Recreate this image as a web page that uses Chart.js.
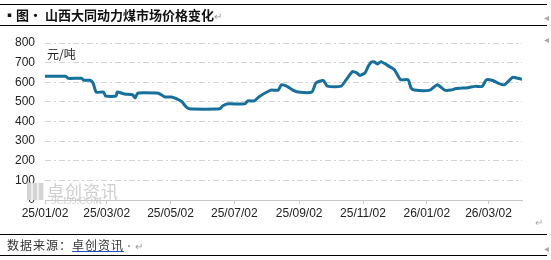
<!DOCTYPE html>
<html>
<head>
<meta charset="utf-8">
<script src="https://cdn.jsdelivr.net/npm/chart.js@4/dist/chart.umd.min.js"></script>
<style>
  body { margin: 0; background: #fff; }
  #wrap { position: relative; width: 551px; height: 260px; overflow: hidden; font-family: "Noto Sans CJK SC", sans-serif; }
  #grafico { position: absolute; left: 0; top: 0; }
  .linea { position: absolute; left: 0; width: 547px; height: 1px; background: #000; }
  #titulo { position: absolute; left: 3px; top: 5px; font-size: 13px; font-weight: bold; color: #111; white-space: nowrap; }
  #fuente { position: absolute; left: 7px; top: 236px; font-size: 12px; color: #333; letter-spacing: 1px; white-space: nowrap; }
  #fuente u { text-decoration-color: #2050c0; }
  .marca { position: absolute; color: #aaa; font-size: 10px; }
  #unidad { position: absolute; left: 47px; top: 45px; font-size: 12px; color: #222; }
  #agua { position: absolute; left: 27px; top: 180px; color: #cfcfcf; }
  #agua .logo { position: absolute; left: 0; top: 3px; width: 17px; height: 17px; background: repeating-linear-gradient(90deg, #d4d4d4 0 4px, #eee 4px 6px); }
  #agua .txt { position: absolute; left: 20px; top: -2px; font-size: 17px; letter-spacing: 1px; white-space: nowrap; }
  #agua .web { position: absolute; left: 24px; top: 15px; font-size: 10px; font-family: "Liberation Serif", serif; white-space: nowrap; }
</style>
</head>
<body>
<div id="wrap">
  <canvas id="grafico" width="551" height="260"></canvas>
  <div class="linea" style="top:4px"></div>
  <div class="linea" style="top:25px"></div>
  <div class="linea" style="top:234px"></div>
  <div class="linea" style="top:255px"></div>
  <div id="titulo">▪图· 山西大同动力煤市场价格变化<span style="color:#999;font-weight:normal;font-size:10px">↵</span></div>
  <div class="marca" style="left:544px;top:9px">◂</div>
  <div class="marca" style="left:544px;top:31px">◂</div>
  <div class="marca" style="left:535px;top:214px">↵</div>
  <div class="marca" style="left:544px;top:240px">◂</div>
  <div id="unidad">元/吨</div>
  <div id="agua"><div class="logo"></div><div class="txt">卓创资讯</div><div class="web">SCI99.COM</div></div>
  <div id="fuente">数据来源：<u>卓创资讯</u><span style="color:#999;font-size:10px">·↵</span></div>
</div>
<script>
// días desde 25/01/02
const dias = [0, 20, 22, 35, 37, 43, 46, 49, 56, 58, 68, 69, 76, 84, 86, 89, 107, 110, 115, 121, 126, 131, 134, 138, 167, 170, 175, 191, 194, 200, 205, 215, 217, 223, 226, 231, 237, 242, 255, 259, 266, 270, 283, 288, 294, 298, 301, 306, 309, 312, 315, 318, 321, 329, 334, 340, 347, 350, 353, 368, 375, 382, 388, 393, 404, 411, 418, 422, 428, 433, 439, 447, 452, 456];
const precios = [630, 630, 620, 620, 610, 610, 595, 550, 550, 530, 530, 550, 540, 535, 520, 545, 545, 540, 525, 525, 515, 500, 480, 465, 465, 480, 490, 490, 505, 505, 528, 558, 560, 560, 587, 580, 560, 550, 550, 596, 609, 580, 580, 613, 655, 648, 635, 648, 681, 703, 703, 693, 705, 681, 664, 613, 613, 570, 560, 560, 587, 560, 560, 568, 572, 579, 579, 613, 609, 596, 587, 625, 620, 615];

const posTicks = [0, 59, 120, 181, 243, 304, 365, 424];
const etiquetas = ['25/01/02', '25/03/02', '25/05/02', '25/07/02', '25/09/02', '25/11/02', '26/01/02', '26/03/02'];
const ticksY = [0, 100, 200, 300, 400, 500, 600, 700, 800];

const puntos = dias.map((d, i) => ({ x: d, y: precios[i] }));

new Chart(document.getElementById('grafico'), {
    type: 'line',
    data: {
        datasets: [{
            data: puntos,
            borderColor: '#17709b',
            borderWidth: 3,
            pointRadius: 0,
            tension: 0.2,
            fill: false
        }]
    },
    options: {
        responsive: false,
        animation: false,
        layout: { padding: { top: 43, right: 29, bottom: 35, left: 0 } },
        plugins: { legend: { display: false }, tooltip: { enabled: false } },
        scales: {
            x: {
                type: 'linear',
                min: 0,
                max: 456,
                afterBuildTicks: s => { s.ticks = posTicks.map(v => ({ value: v })); },
                afterFit: s => { s.height = 25; },
                ticks: {
                    autoSkip: false,
                    maxRotation: 0,
                    padding: 2,
                    color: '#222',
                    font: { family: 'Liberation Sans', size: 12 },
                    callback: v => etiquetas[posTicks.indexOf(v)]
                },
                grid: { drawOnChartArea: false, drawTicks: true, tickLength: 4, color: '#c8c8c8' },
                border: { display: true, color: '#c8c8c8' }
            },
            y: {
                min: 0,
                max: 800,
                afterBuildTicks: s => { s.ticks = ticksY.map(v => ({ value: v })); },
                afterFit: s => { s.width = 45; },
                ticks: {
                    padding: 10,
                    color: '#222',
                    font: { family: 'Liberation Sans', size: 12 }
                },
                grid: { drawTicks: false, color: '#d4d4d4' },
                border: { display: false, dash: [6, 3, 2, 3] }
            }
        }
    }
});
</script>
</body>
</html>
